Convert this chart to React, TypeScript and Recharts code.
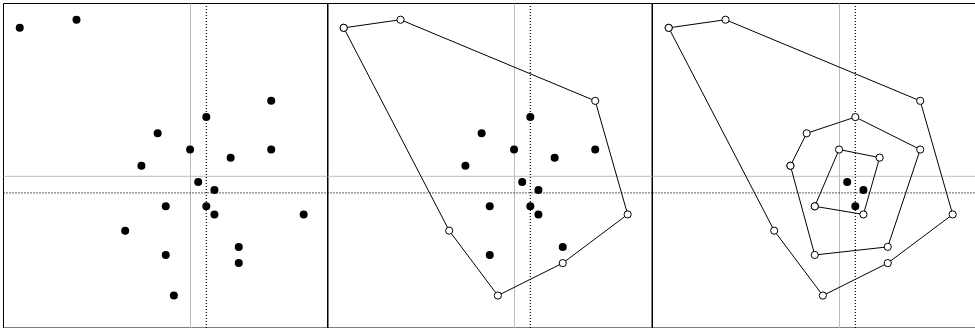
import React from 'react';
import { ScatterChart, Scatter, XAxis, YAxis, ReferenceLine, ReferenceArea } from 'recharts';

// sample points (grid units)
const xValues = [-21, -14, 10, 2, -4, 0, 5, 10, -6, 1, 3, -3, 2, 3, 14, -8, 6, -3, 6, -2];
const yValues = [15, 16, 6, 4, 2, 0, -1, 0, -2, -4, -5, -7, -7, -8, -8, -10, -12, -13, -14, -18];

// how many convex layers are peeled in each panel
const peelCounts = [0, 1, 3];

const X_DOMAIN: [number, number] = [-23, 17];
const Y_DOMAIN: [number, number] = [-22, 18];
const panelLefts = [3.5, 327.5, 652.5];
const PLOT = 324.5;
const SIZE = 330;

type Pt = { x: number; y: number };

const points: Pt[] = xValues.map((x, i) => ({ x, y: yValues[i] }));

const cross = (o: Pt, a: Pt, b: Pt) => (a.x - o.x) * (b.y - o.y) - (a.y - o.y) * (b.x - o.x);

const convexHull = (pts: Pt[]): Pt[] => {
  const sorted = [...pts].sort((a, b) => a.x - b.x || a.y - b.y);
  const lower: Pt[] = [];
  for (const p of sorted) {
    while (lower.length >= 2 && cross(lower[lower.length - 2], lower[lower.length - 1], p) <= 0) lower.pop();
    lower.push(p);
  }
  const upper: Pt[] = [];
  for (let i = sorted.length - 1; i >= 0; i--) {
    const p = sorted[i];
    while (upper.length >= 2 && cross(upper[upper.length - 2], upper[upper.length - 1], p) <= 0) upper.pop();
    upper.push(p);
  }
  lower.pop();
  upper.pop();
  return lower.concat(upper);
};

const peel = (pts: Pt[], n: number) => {
  const layers: Pt[][] = [];
  let rest = pts;
  for (let i = 0; i < n; i++) {
    const hull = convexHull(rest);
    layers.push(hull);
    rest = rest.filter((p) => !hull.includes(p));
  }
  return { layers, rest };
};

const mean = (v: number[]) => v.reduce((s, d) => s + d, 0) / v.length;

const meanX = mean(xValues);
const meanY = mean(yValues);

// center = centroid of the points left after the deepest peel
const deepest = peel(points, Math.max(...peelCounts)).rest;
const centerX = mean(deepest.map((p) => p.x));
const centerY = mean(deepest.map((p) => p.y));

const Dot = (props: any) => <circle cx={props.cx} cy={props.cy} r={4} fill="#000" />;
const OpenDot = (props: any) => (
  <circle cx={props.cx} cy={props.cy} r={3.6} fill="#fff" stroke="#000" strokeWidth={1} />
);

const Panel = ({ peelCount, left }: { peelCount: number; left: number }) => {
  const { layers, rest } = peel(points, peelCount);
  return (
    <div style={{ position: 'absolute', left: left - 3.5, top: 0 }}>
      <ScatterChart
        width={SIZE}
        height={SIZE}
        margin={{ top: 3.5, left: 3.5, right: SIZE - 3.5 - PLOT, bottom: SIZE - 3.5 - PLOT }}
      >
        <XAxis type="number" dataKey="x" domain={X_DOMAIN} hide allowDataOverflow />
        <YAxis type="number" dataKey="y" domain={Y_DOMAIN} hide allowDataOverflow />
        <ReferenceLine x={meanX} stroke="#bdbdbd" strokeWidth={1} />
        <ReferenceLine y={meanY} stroke="#bdbdbd" strokeWidth={1} />
        <ReferenceLine x={centerX} stroke="#000" strokeWidth={1.2} strokeDasharray="1 2" />
        <ReferenceLine y={centerY} stroke="#000" strokeWidth={1.2} strokeDasharray="1 2" />
        <ReferenceArea
          x1={X_DOMAIN[0]}
          x2={X_DOMAIN[1]}
          y1={Y_DOMAIN[0]}
          y2={Y_DOMAIN[1]}
          fill="none"
          fillOpacity={0}
          stroke="#000"
          strokeWidth={1}
        />
        {layers.map((hull, i) => (
          <Scatter
            key={`layer-${i}`}
            data={[...hull, hull[0]]}
            line={{ stroke: '#000', strokeWidth: 1 }}
            lineType="joint"
            shape={OpenDot}
            isAnimationActive={false}
          />
        ))}
        <Scatter data={rest} shape={Dot} isAnimationActive={false} />
      </ScatterChart>
    </div>
  );
};

export default function App() {
  return (
    <div
      style={{
        position: 'absolute',
        left: 0,
        top: 0,
        width: 975,
        height: 328,
        overflow: 'hidden',
        background: '#fff',
      }}
    >
      {peelCounts.map((n, i) => (
        <Panel key={i} peelCount={n} left={panelLefts[i]} />
      ))}
    </div>
  );
}
